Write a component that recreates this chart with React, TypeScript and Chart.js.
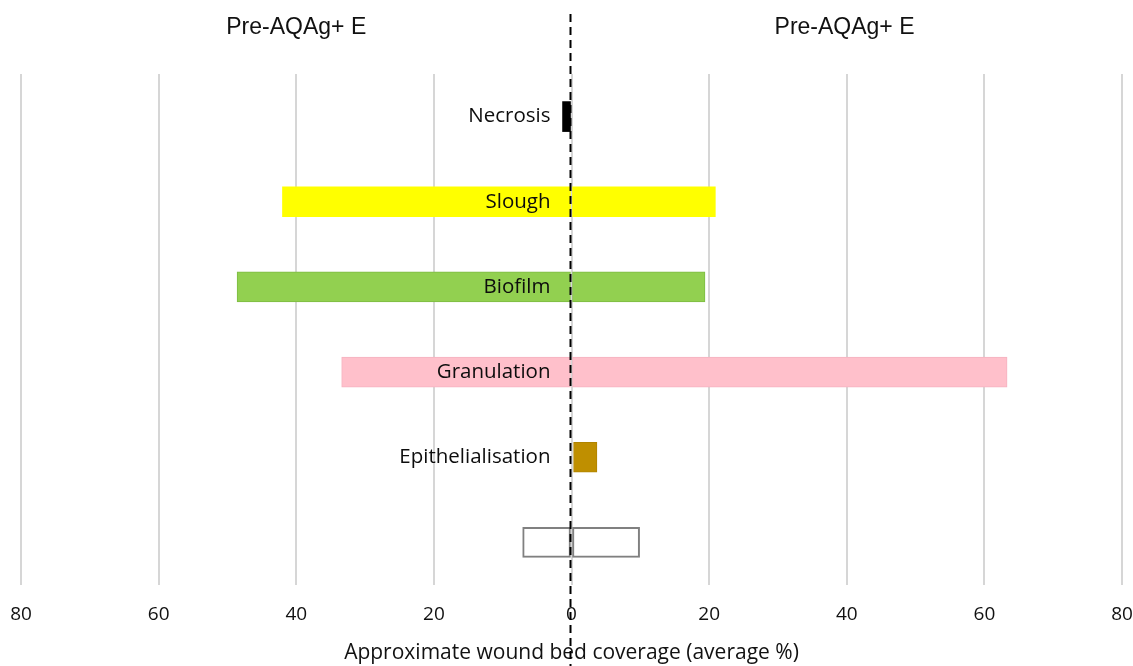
import React, { useEffect, useRef } from "react";
import { Chart, registerables } from "chart.js";

Chart.register(...registerables);

const categories = ["Necrosis", "Slough", "Biofilm", "Granulation", "Epithelialisation", ""];
const leftValues = [1.3, 42, 48.6, 33.4, 0, 7.1];
const rightStart = [0, 0, 0, 0, 0.3, 0];
const rightEnd = [0, 20.9, 19.4, 63.3, 3.7, 9.9];
const fillColors = ["#000000", "#FFFF00", "#92D050", "#FFC0CB", "#BF8F00", "#FFFFFF"];
const borderColors = ["#000000", "#FFFF00", "#7DBB42", "#F5B3C0", "#B08400", "#808080"];
const borderWidths = [0, 0, 1, 1, 1, 2];
const tickValues = [-80, -60, -40, -20, 0, 20, 40, 60, 80];
const panelTitles = ["Pre-AQAg+ E", "Pre-AQAg+ E"];
const axisTitle = "Approximate wound bed coverage (average %)";

const overlayPlugin = {
  id: "overlay",
  afterDatasetsDraw(chart: any) {
    const { ctx, chartArea, scales } = chart;
    const xs = scales.x;
    const ys = scales.y;
    const x0 = xs.getPixelForValue(0);
    ctx.save();
    // category labels
    ctx.font = "20.5px 'Open Sans'";
    ctx.fillStyle = "#0d0d0d";
    ctx.textAlign = "right";
    ctx.textBaseline = "middle";
    categories.forEach((c, i) => {
      if (!c) return;
      ctx.fillText(c, x0 - 21, ys.getPixelForValue(i));
    });
    // dashed zero line
    ctx.strokeStyle = "#000000";
    ctx.lineWidth = 2;
    ctx.setLineDash([8, 5]);
    ctx.beginPath();
    ctx.moveTo(x0 - 1, 14);
    ctx.lineTo(x0 - 1, chart.height);
    ctx.stroke();
    ctx.setLineDash([]);
    // panel titles
    ctx.font = "23px 'Liberation Sans', Arial, sans-serif";
    ctx.fillStyle = "#111111";
    ctx.textAlign = "center";
    ctx.textBaseline = "alphabetic";
    const w = chartArea.right - chartArea.left;
    ctx.fillText(panelTitles[0], chartArea.left + w * 0.25, 34);
    ctx.fillText(panelTitles[1], chartArea.left + w * 0.748, 34);
    ctx.restore();
  },
};

export default function App() {
  const ref = useRef<HTMLCanvasElement | null>(null);
  useEffect(() => {
    if (!ref.current) return;
    const chart = new Chart(ref.current, {
      type: "bar",
      data: {
        labels: categories,
        datasets: [
          {
            label: "left",
            data: leftValues.map((v) => (v ? [0, -v] : null)) as any,
            backgroundColor: fillColors,
            borderColor: borderColors,
            borderWidth: borderWidths,
            borderSkipped: false,
            barThickness: 30,
            grouped: false,
          } as any,
          {
            label: "right",
            data: rightEnd.map((v, i) => (v ? [rightStart[i], v] : null)) as any,
            backgroundColor: fillColors,
            borderColor: borderColors,
            borderWidth: borderWidths,
            borderSkipped: false,
            barThickness: 30,
            grouped: false,
          } as any,
        ],
      },
      options: {
        indexAxis: "y",
        animation: false,
        responsive: false,
        maintainAspectRatio: false,
        layout: { padding: { left: 21, right: 11, top: 74, bottom: 0 } },
        plugins: {
          legend: { display: false },
          tooltip: { enabled: false },
        },
        scales: {
          x: {
            type: "linear",
            min: -80,
            max: 80,
            afterBuildTicks: (scale: any) => {
              scale.ticks = tickValues.map((v) => ({ value: v }));
            },
            border: { display: false },
            grid: {
              color: "#D6D6D6",
              lineWidth: 2,
              drawTicks: true,
              tickLength: 18,
              tickColor: "rgba(0,0,0,0)",
            },
            ticks: {
              padding: 0,
              color: "#111111",
              font: { family: "'Open Sans'", size: 19 },
              callback: (v: any) => String(Math.abs(Number(v))),
              maxRotation: 0,
            },
            title: {
              display: true,
              text: axisTitle,
              color: "#111111",
              font: { family: "'Open Sans'", size: 21 },
              padding: { top: 15, bottom: 0 },
            },
          },
          y: {
            type: "category",
            display: false,
            offset: true,
            grid: { display: false },
          },
        },
      },
      plugins: [overlayPlugin],
    } as any);
    return () => chart.destroy();
  }, []);
  return (
    <div style={{ position: "fixed", left: 0, top: 0, width: 1133, height: 666, background: "#ffffff" }}>
      <canvas ref={ref} width={1133} height={666} style={{ display: "block" }} />
    </div>
  );
}
